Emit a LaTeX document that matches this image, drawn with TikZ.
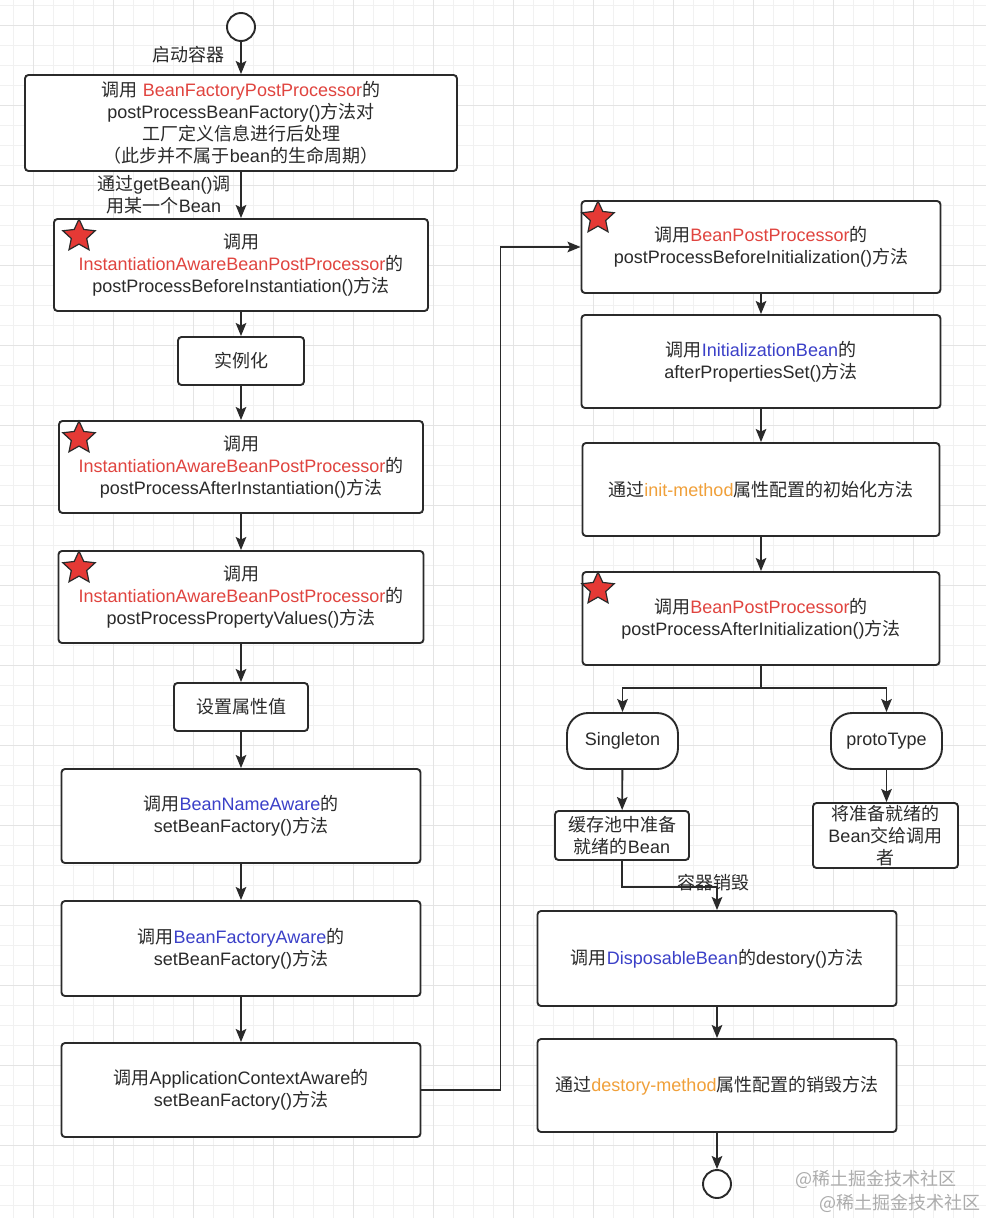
\documentclass[tikz,border=0pt]{standalone}
\usepackage{fontspec}
\setmainfont{Liberation Sans}
\newfontfamily\zhfont{Noto Sans CJK SC}
\usetikzlibrary{positioning,arrows.meta,shapes.geometric}
\definecolor{bpRed}{HTML}{E0443F}
\definecolor{bpBlue}{HTML}{3B40C8}
\definecolor{bpOrange}{HTML}{F0A03A}
\definecolor{bpInk}{HTML}{2A2A2A}
\definecolor{bpStar}{HTML}{E53935}
\definecolor{gridMinor}{HTML}{F1F1F1}
\definecolor{gridMajor}{HTML}{E4E4E4}
\newcommand{\zh}[1]{{\zhfont #1}}
\newcommand{\hlred}[1]{\textcolor{bpRed}{#1}}
\newcommand{\hlblue}[1]{\textcolor{bpBlue}{#1}}
\newcommand{\hlorange}[1]{\textcolor{bpOrange}{#1}}

\begin{document}
\begin{tikzpicture}[x=1pt,y=-1pt,
    font=\fontsize{18}{22}\selectfont,text=bpInk,
    box/.style={draw=bpInk,line width=1.9pt,rounded corners=3.5pt,fill=white,align=center,inner sep=0pt},
    pill/.style={box,rounded corners=21pt},
    term/.style={circle,draw=bpInk,line width=1.9pt,fill=white,minimum size=28pt,inner sep=0pt},
    redstar/.style={star,star points=5,star point ratio=2.1,fill=bpStar,draw=bpInk,line width=1.2pt,minimum size=34pt,inner sep=0pt},
    flow/.style={draw=bpInk,line width=1.9pt,-{Stealth[length=13pt,width=10.5pt,inset=2.5pt]}},
    link/.style={draw=bpInk,line width=1.9pt},
    lbl/.style={align=center,inner sep=0pt},
    wmark/.style={text=gray!65,inner sep=0pt}]
  \useasboundingbox (0,0) rectangle (986,1218);
  \fill[white] (0,0) rectangle (986,1218);
  % background grid
  \foreach \g in {0,...,48} \draw[gridMinor,line width=1pt] ({13+20*\g},0) -- ({13+20*\g},1218);
  \foreach \g in {0,...,60} \draw[gridMinor,line width=1pt] (0,{5+20*\g}) -- (986,{5+20*\g});
  \foreach \g in {1,5,...,48} \draw[gridMajor,line width=1pt] ({13+20*\g},0) -- ({13+20*\g},1218);
  \foreach \g in {1,5,...,60} \draw[gridMajor,line width=1pt] (0,{5+20*\g}) -- (986,{5+20*\g});

  % left column
  \node[term] (start) at (241,27) {};
  \node[box,minimum width=432pt,minimum height=96pt] (bfpp) at (241,123)
    {\zh{调用} \hlred{BeanFactoryPostProcessor}\zh{的}\\postProcessBeanFactory()\zh{方法对}\\\zh{工厂定义信息进行后处理}\\\zh{（此步并不属于}bean\zh{的生命周期）}};
  \node[box,minimum width=374pt,minimum height=92pt] (iaBefore) at (241,265)
    {\zh{调用}\\\hlred{InstantiationAwareBeanPostProcessor}\zh{的}\\postProcessBeforeInstantiation()\zh{方法}};
  \node[box,minimum width=126pt,minimum height=48pt] (inst) at (241,361) {\zh{实例化}};
  \node[box,minimum width=364pt,minimum height=92pt] (iaAfter) at (241,467)
    {\zh{调用}\\\hlred{InstantiationAwareBeanPostProcessor}\zh{的}\\postProcessAfterInstantiation()\zh{方法}};
  \node[box,minimum width=365pt,minimum height=92pt] (iaProps) at (241,597)
    {\zh{调用}\\\hlred{InstantiationAwareBeanPostProcessor}\zh{的}\\postProcessPropertyValues()\zh{方法}};
  \node[box,minimum width=134pt,minimum height=48pt] (setProps) at (241,707) {\zh{设置属性值}};
  \node[box,minimum width=359pt,minimum height=94pt] (nameAware) at (241,816)
    {\zh{调用}\hlblue{BeanNameAware}\zh{的}\\setBeanFactory()\zh{方法}};
  \node[box,minimum width=359pt,minimum height=95pt] (factoryAware) at (241,948.5)
    {\zh{调用}\hlblue{BeanFactoryAware}\zh{的}\\setBeanFactory()\zh{方法}};
  \node[box,minimum width=359pt,minimum height=94pt] (ctxAware) at (241,1090)
    {\zh{调用}ApplicationContextAware\zh{的}\\setBeanFactory()\zh{方法}};
  \node[redstar] (s1) at (79,236) {};
  \node[redstar] (s2) at (79,438) {};
  \node[redstar] (s3) at (79,568) {};
  \node[lbl] (lStart) at (188,55) {\zh{启动容器}};
  \node[lbl] (lGet) at (164,195) {\zh{通过}getBean()\zh{调}\\\zh{用某一个}Bean};

  % right column
  \node[box,minimum width=359pt,minimum height=92pt] (bppBefore) at (761,247)
    {\zh{调用}\hlred{BeanPostProcessor}\zh{的}\\postProcessBeforeInitialization()\zh{方法}};
  \node[box,minimum width=359pt,minimum height=93pt] (initBean) at (761,361.5)
    {\zh{调用}\hlblue{InitializationBean}\zh{的}\\afterPropertiesSet()\zh{方法}};
  \node[box,minimum width=357pt,minimum height=93pt] (initMethod) at (761,489.5)
    {\zh{通过}\hlorange{init-method}\zh{属性配置的初始化方法}};
  \node[box,minimum width=357pt,minimum height=93pt] (bppAfter) at (761,618.5)
    {\zh{调用}\hlred{BeanPostProcessor}\zh{的}\\postProcessAfterInitialization()\zh{方法}};
  \node[redstar] (s4) at (598,218) {};
  \node[redstar] (s5) at (598,589) {};
  \coordinate (split) at (761,688);
  \node[pill,minimum width=111pt,minimum height=56pt] (single) at (622.5,741) {Singleton};
  \node[pill,minimum width=111pt,minimum height=56pt] (proto) at (886.5,741) {protoType};
  \node[box,minimum width=134pt,minimum height=49pt] (cache) at (622,835.5) {\zh{缓存池中准备}\\\zh{就绪的}Bean};
  \node[box,minimum width=145pt,minimum height=65pt] (handOver) at (885.5,835.5) {\zh{将准备就绪的}\\Bean\zh{交给调用}\\\zh{者}};
  \node[box,minimum width=359pt,minimum height=95pt] (dispose) at (717,958.5)
    {\zh{调用}\hlblue{DisposableBean}\zh{的}destory()\zh{方法}};
  \node[box,minimum width=359pt,minimum height=93pt] (destroyMethod) at (717,1085.5)
    {\zh{通过}\hlorange{destory-method}\zh{属性配置的销毁方法}};
  \node[term] (finish) at (717,1184) {};
  \node[lbl] (lClose) at (713,883) {\zh{容器销毁}};
  \node[wmark] (wm1) at (876,1179) {\zh{@稀土掘金技术社区}};
  \node[wmark] (wm2) at (900,1203) {\zh{@稀土掘金技术社区}};

  \draw[flow] (start) -- (bfpp);
  \draw[flow] (bfpp) -- (iaBefore);
  \draw[flow] (iaBefore) -- (inst);
  \draw[flow] (inst) -- (iaAfter);
  \draw[flow] (iaAfter) -- (iaProps);
  \draw[flow] (iaProps) -- (setProps);
  \draw[flow] (setProps) -- (nameAware);
  \draw[flow] (nameAware) -- (factoryAware);
  \draw[flow] (factoryAware) -- (ctxAware);
  \draw[flow] (ctxAware.east) -- ++(79,0) |- (bppBefore.west);
  \draw[flow] (bppBefore) -- (initBean);
  \draw[flow] (initBean) -- (initMethod);
  \draw[flow] (initMethod) -- (bppAfter);
  \draw[link] (bppAfter.south) -- (split);
  \draw[flow] (split) -| (single.north);
  \draw[flow] (split) -| (proto.north);
  \draw[flow] (single) -- (cache);
  \draw[flow] (proto.south) -- (proto.south |- handOver.north);
  \draw[flow] (cache.south) -- ++(0,26) -| (dispose.north);
  \draw[flow] (dispose) -- (destroyMethod);
  \draw[flow] (destroyMethod) -- (finish);
\end{tikzpicture}
\end{document}
